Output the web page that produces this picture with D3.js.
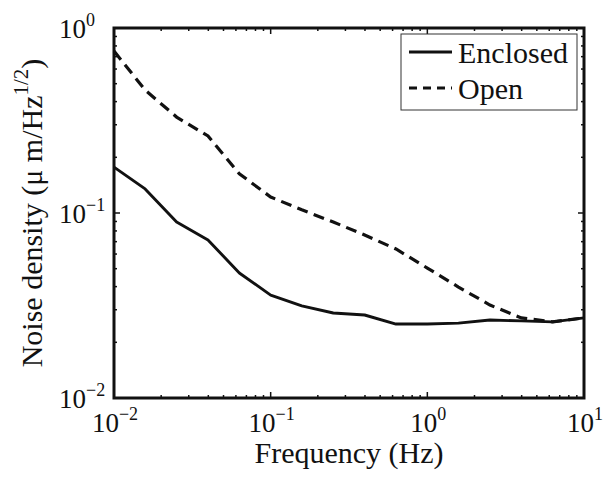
<!DOCTYPE html>
<html><head><meta charset="utf-8">
<script src="https://cdn.jsdelivr.net/npm/d3@7"></script>
<style>
body{margin:0;background:#fff}
text{font-family:"Liberation Serif","Times New Roman",serif;fill:#111}
</style>
</head><body>
<svg id="c" width="612" height="480"></svg>
<script>
// ---- data ----
const freq = [0.01, 0.0158, 0.0251, 0.0398, 0.0631, 0.1, 0.158, 0.251, 0.398, 0.631, 1, 1.58, 2.51, 3.98, 6.31, 10];
const enclosed = [0.177, 0.135, 0.0894, 0.0715, 0.0474, 0.036, 0.0315, 0.0288, 0.0281, 0.0251, 0.0251, 0.0254, 0.0264, 0.0261, 0.0258, 0.0271];
const open = [0.75, 0.462, 0.33, 0.261, 0.163, 0.122, 0.104, 0.0894, 0.076, 0.0639, 0.0504, 0.0398, 0.0318, 0.0271, 0.0258, 0.0271];
const seriesNames = ["Enclosed", "Open"];
const xTickExps = [-2, -1, 0, 1];
const yTickExps = [-2, -1, 0];
const xLabel = "Frequency (Hz)";

// ---- layout ----
const L = 114, T = 28, W = 470, H = 370;
const svg = d3.select("#c");
const x = d3.scaleLog().domain([0.01, 10]).range([L, L + W]);
const y = d3.scaleLog().domain([0.01, 1]).range([T + H, T]);
const ink = "#111";

function logTicks(lo, hi) {
  const major = [], minor = [];
  for (let e = lo; e <= hi; e++) {
    major.push(Math.pow(10, e));
    if (e < hi) for (let m = 2; m <= 9; m++) minor.push(m * Math.pow(10, e));
  }
  return {major, minor};
}
const xt = logTicks(-2, 1), yt = logTicks(-2, 0);
const g = svg.append("g").attr("stroke", ink).attr("fill", "none");
const maj = 6, mnr = 3;
xt.major.forEach(v => {
  g.append("line").attr("x1", x(v)).attr("x2", x(v)).attr("y1", T + H).attr("y2", T + H - maj).attr("stroke-width", 1.5);
  g.append("line").attr("x1", x(v)).attr("x2", x(v)).attr("y1", T).attr("y2", T + maj).attr("stroke-width", 1.5);
});
xt.minor.forEach(v => {
  g.append("line").attr("x1", x(v)).attr("x2", x(v)).attr("y1", T + H).attr("y2", T + H - mnr).attr("stroke-width", 1.5);
  g.append("line").attr("x1", x(v)).attr("x2", x(v)).attr("y1", T).attr("y2", T + mnr).attr("stroke-width", 1.5);
});
yt.major.forEach(v => {
  g.append("line").attr("y1", y(v)).attr("y2", y(v)).attr("x1", L).attr("x2", L + maj).attr("stroke-width", 1.5);
  g.append("line").attr("y1", y(v)).attr("y2", y(v)).attr("x1", L + W).attr("x2", L + W - maj).attr("stroke-width", 1.5);
});
yt.minor.forEach(v => {
  g.append("line").attr("y1", y(v)).attr("y2", y(v)).attr("x1", L).attr("x2", L + mnr).attr("stroke-width", 1.5);
  g.append("line").attr("y1", y(v)).attr("y2", y(v)).attr("x1", L + W).attr("x2", L + W - mnr).attr("stroke-width", 1.5);
});

// data lines
const line = d3.line().x((d, i) => x(freq[i])).y(d => y(d));
svg.append("path").datum(enclosed).attr("d", line).attr("fill", "none")
  .attr("stroke", ink).attr("stroke-width", 2.9).attr("stroke-linejoin", "round");
svg.append("path").datum(open).attr("d", line).attr("fill", "none")
  .attr("stroke", ink).attr("stroke-width", 3.2).attr("stroke-dasharray", "11,6.5");

// axes box
svg.append("rect").attr("x", L).attr("y", T).attr("width", W).attr("height", H)
  .attr("fill", "none").attr("stroke", ink).attr("stroke-width", 3);

// tick labels
const fs = 27, sfs = 18;
const minus = e => (e < 0 ? "\u2212" + (-e) : "" + e);
xTickExps.forEach(e => {
  const t = svg.append("text").attr("x", x(Math.pow(10, e)) + 1).attr("y", T + H + 34)
    .attr("text-anchor", "middle").attr("font-size", fs);
  t.append("tspan").text("10");
  t.append("tspan").attr("dy", -12).attr("font-size", sfs).text(minus(e));
});
yTickExps.forEach(e => {
  const t = svg.append("text").attr("x", 59).attr("y", y(Math.pow(10, e)) + 9.5)
    .attr("font-size", fs);
  t.append("tspan").text("10");
  t.append("tspan").attr("dy", -12).attr("font-size", sfs).text(minus(e));
});

// axis labels
svg.append("text").attr("x", L + W / 2).attr("y", 463).attr("text-anchor", "middle")
  .attr("font-size", 30).text(xLabel);
const yl = svg.append("text").attr("transform", `translate(42,${T + H / 2}) rotate(-90)`)
  .attr("text-anchor", "middle").attr("font-size", 30);
yl.append("tspan").text("Noise density (\u03bc m/Hz");
yl.append("tspan").attr("dy", -14).attr("font-size", 21).text("1/2");
yl.append("tspan").attr("dy", 14).text(")");

// legend
const lg = svg.append("g");
lg.append("rect").attr("x", 401).attr("y", 34).attr("width", 176).attr("height", 76)
  .attr("fill", "#fff").attr("stroke", "#333").attr("stroke-width", 1);
[[52, 63, null], [88, 99, "8,6"]].forEach((r, i) => {
  const ln = lg.append("line").attr("x1", 409).attr("x2", 452).attr("y1", r[0]).attr("y2", r[0])
    .attr("stroke", ink).attr("stroke-width", i ? 3.2 : 2.9);
  if (r[2]) ln.attr("stroke-dasharray", r[2]);
  lg.append("text").attr("x", 458).attr("y", r[1]).attr("font-size", 30).text(seriesNames[i]);
});
</script>
</body></html>
